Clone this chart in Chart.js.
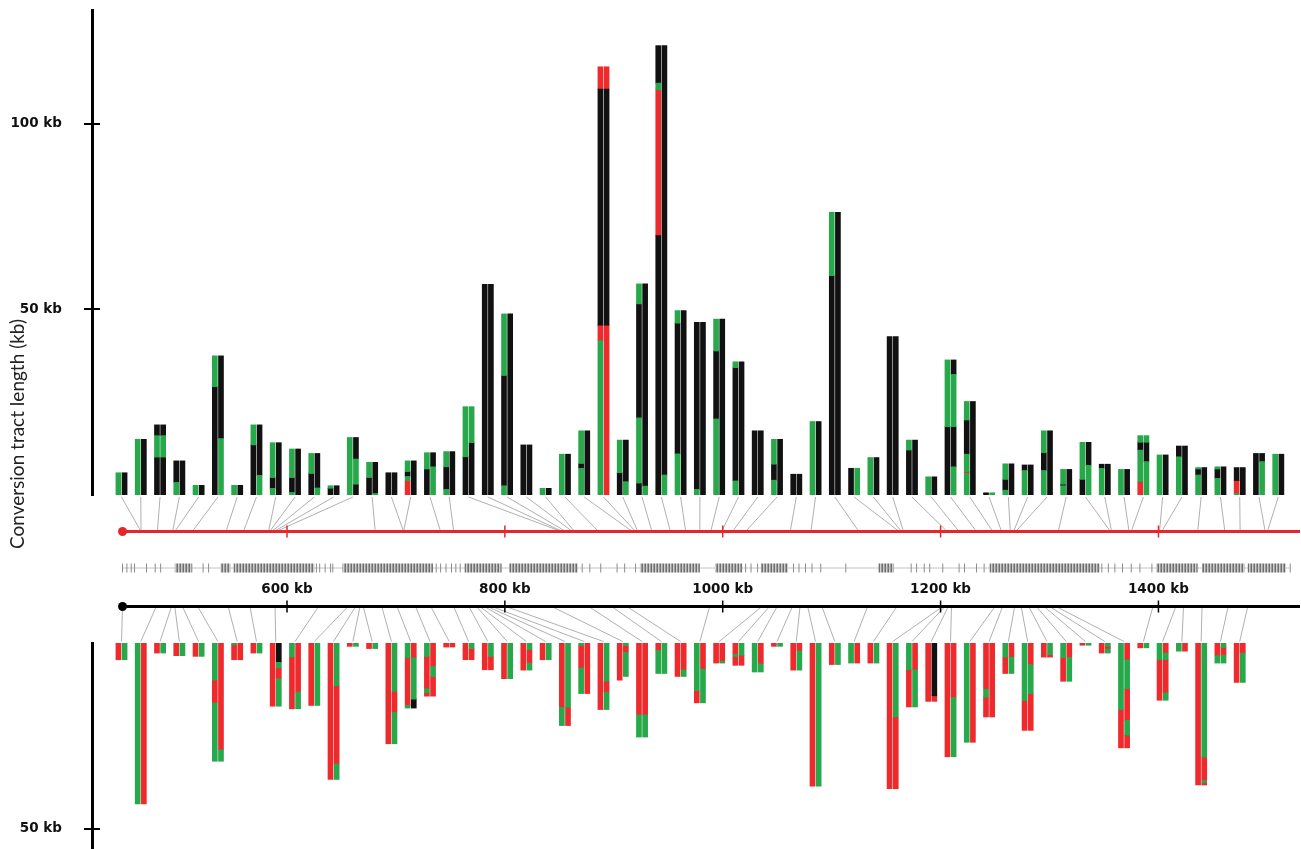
<!DOCTYPE html>
<html>
<head>
<meta charset="utf-8">
<script src="https://cdn.jsdelivr.net/npm/chart.js@4.4.1/dist/chart.umd.min.js"></script>
<style>
  html, body { margin: 0; padding: 0; background: #fff; overflow: hidden; }
  #wrap { width: 1301px; height: 849px; position: relative; }
</style>
</head>
<body>
<div id="wrap"><canvas id="chart"></canvas></div>
<script>
// ---------------------------------------------------------------------------
// Conversion tracts along the chromosome arm.
// Each event is drawn as a pair of stacked bars (one per chromatid).
// A bar is written bottom-up as "<colour><upper boundary in kb>" tokens:
//   g = green, k = black, r = red.
// ---------------------------------------------------------------------------

// Events shown above the chromosome: genomic position (kb) and tract make-up
const upperPos = [
  466, 466, 481, 495, 497, 513, 544, 560, 583, 584, 586, 588, 590, 681, 707, 707,
  741, 753, 852, 853, 856, 862, 864, 886, 917, 920, 922, 935, 952, 966, 979, 989,
  999, 1009, 1021, 1062, 1081, 1125, 1162, 1164, 1166, 1206, 1217, 1233, 1248, 1256,
  1264, 1267, 1269, 1308, 1356, 1357, 1373, 1375, 1401, 1403, 1436, 1461, 1475, 1498, 1500
];
const upperLeft = [
  'g6', 'g15', 'k10.2 g16 k18.9', 'g3.4 k9.2', 'g2.6', 'k29.2 g37.5', 'g2.6', 'k13.5 g18.9',
  'g1.8 k4.7 g14.1', 'g0.7 k4.7 g12.4', 'k5.8 g11.2', 'k1.8 g2.5', 'g15.5', 'k4.7 g8.8', 'k6',
  'r3.9 g5 k6.3 g9.2', 'k7 g11.4', 'g1.5 k7.6 g11.7', 'k10.3 g23.8', 'k56.8', 'g2.5 k32.2 g48.8',
  'k13.5', 'g1.8', 'g11', 'g7.2 k8.5 g17.3', 'g41.6 r45.8 k109.4 r115.4', 'k6 g14.8',
  'k3.2 g20.8 k51.5 g56.9', 'k69.9 r109.2 g111 k121.1', 'g11.1 k46.3 g49.7', 'g1.5 k46.5',
  'g20.5 k38.8 g47.4', 'g3.8 k34.3 g35.9', 'k17.3', 'g4 k8.3 g15', 'k5.6', 'g19.8', 'k59.1 g76.2',
  'k7.2', 'g10.1', 'k42.7', 'k12.1 g14.8', 'g4.9', 'k18.4 g36.4', 'g5.8 r6.3 g11 k20.2 g25.2',
  'k0.6', 'g1.3 k4.2 g8.4', 'g6.6 k8.1', 'g6.6 k11.4 g17.3', 'g2.5 k2.9 g6.9', 'k4.2 g14.2',
  'g7.2 k8.3', 'g6.9', 'r3.6 g12.1 k14.2 g16', 'g10.8', 'g10.3 k13.2', 'g5.4 k7 g7.4',
  'g4.5 k7 g7.6', 'g0.4 r3.9 k7.4', 'k11.2', 'g11'
];
const upperRight = [
  'k6', 'k15', 'k10.2 g16 k18.9', 'k9.2', 'k2.6', 'g15.2 k37.5', 'k2.6', 'g5.3 k18.9',
  'k14.1', 'k12.4', 'g1.9 k11.2', 'k2.5', 'k2.9 g9.7 k15.5', 'g0.4 k8.8', 'k6',
  'k9.2', 'g7.6 k11.4', 'k11.7', 'k14.1 g23.8', 'k56.8', 'k48.8',
  'k13.5', 'k1.8', 'k11', 'k17.3', 'r45.8 k109.4 r115.4', 'g3.6 k14.8',
  'g2.4 k56.9', 'g5.4 k121.1', 'k49.7', 'k46.5',
  'k47.4', 'k35.9', 'k17.3', 'k15', 'k5.6', 'k19.8', 'k76.2',
  'g7.2', 'k10.1', 'k42.7', 'k14.8', 'k4.9', 'g7.6 k18.4 g32.5 k36.4', 'k25.2',
  'g0.6', 'k8.4', 'k8.1', 'k17.3', 'k6.9', 'g8 k14.2',
  'k8.3', 'k6.9', 'g9 k14.2 g16', 'k10.8', 'k13.2', 'k7.4',
  'k7.6', 'k7.4', 'g9 k11.2', 'k11'
];

// Events shown below the chromosome (bars hang downwards from the axis)
const lowerPos = [
  449, 480, 494, 497, 504, 518, 546, 566, 589, 629, 656, 663, 667, 670, 687, 701,
  718, 732, 753, 767, 774, 777, 781, 784, 788, 801, 843, 877, 898, 912, 988, 1036,
  1043, 1050, 1064, 1071, 1078, 1091, 1133, 1160, 1202, 1204, 1207, 1210, 1250, 1257,
  1268, 1274, 1281, 1288, 1295, 1300, 1306, 1395, 1416, 1423, 1440, 1464, 1482
];
const lowerLeft = [
  'r4.5', 'g43.3', 'r2.7', 'r3.4', 'r3.6', 'g10 r16.1 g31.8', 'g0.5 r4.5', 'r2.7', 'r17',
  'g3.8 r17.7', 'r16.8', 'r36.7', 'r0.9', 'r1.5', 'r27.1', 'g4 r16.8 g17.5',
  'g3.6 r12.3 g13.4 r14.3', 'r1.1', 'r4.5', 'r7.2', 'r9.6', 'r7.3', 'r4.5', 'r17.3 g22.2',
  'g0.7 r6.7 g13.6', 'r17.9', 'r10', 'r19.3 g25.3', 'r2 g8.2', 'r9', 'g12.8 r16.1', 'r5.4',
  'r3.1 g3.6 r6', 'g7.8', 'r0.9', 'r7.3', 'r38.5', 'r5.8', 'g5.4', 'r5.4', 'r39.2',
  'g7.2 r17.2', 'r15.7', 'r30.6', 'g26.7', 'r12.4 g14.6 r19.9', 'g3.8 r8.2', 'g15.5 r23.5',
  'r3.8', 'g3.9 r10.3', 'r0.6', 'r2.7', 'g17.9 r28.2', 'r1.3', 'g4.5 r15.4', 'g2.2',
  'r38.2', 'r3.4 g5.4', 'r10.6'
];
const lowerRight = [
  'g4.5', 'r43.3', 'g2.7', 'g3.4', 'g3.6', 'r28.7 g31.8', 'r4.5', 'g2.7', 'k5.2 g6.7 r9.6 g17',
  'r13.2 g17.7', 'g16.8', 'g11.5 r32.5 g36.7', 'g0.9', 'g1.5', 'g13 r18.6 g27.1', 'r4 g15.1 k17.5',
  'r6.3 g9 r14.3', 'r1.1', 'g1.5 r4.5', 'g3.6 r7.2', 'g9.6', 'g1.8 r5.4 g7.3', 'g4.5', 'g17.3 r22.2',
  'r13.6', 'g10.3 r13.2 g17.9', 'g0.7 r2.5 g9', 'r19.3 g25.3', 'g8.2', 'r7.2 g9', 'r7 g16.1', 'r4.9 g5.4',
  'g3.3 r6', 'r5.6 g7.8', 'g0.9', 'r2.1 g7.3', 'g38.5', 'g5.8', 'r5.4', 'g5.4', 'g19.9 r39.2',
  'r7.2 g17.2', 'k14.2 r15.7', 'r14.6 g30.6', 'r26.7', 'r19.9', 'r3.8 g8.2', 'r5.8 g13.6 r23.5',
  'g3.1 r3.8', 'r3.9 g10.3', 'g0.6', 'g0.9 r1.6 g2.7', 'r4.5 g12.3 r20.8 g24.8 r28.2', 'g1.3',
  'r2.7 g4.5 r13.4 g15.4', 'r2.2', 'g30.7 r37 g37.6 r38.2', 'g1.2 r3.3 g5.4', 'r2.7 g10.6'
];

// Genotyped marker density along the chromosome (kb)
const markerBlocks = [
  [497, 513], [539, 548], [551, 625], [651, 734], [763, 797], [804, 867], [924, 979],
  [993, 1018], [1035, 1060], [1143, 1157], [1245, 1346], [1398, 1436], [1440, 1479], [1482, 1517]
];
const markerSingles = [
  449, 453, 457, 460, 471, 479, 484, 523, 528, 627, 630, 635, 640, 642, 737, 741, 746, 751,
  755, 759, 871, 878, 888, 903, 910, 920, 1021, 1026, 1032, 1065, 1070, 1076, 1082, 1090,
  1113, 1173, 1178, 1185, 1190, 1202, 1217, 1222, 1233, 1240, 1348, 1354, 1360, 1367, 1375,
  1383, 1394, 1521
];

// Chromosome extent and axis ticks
const chromStart = 449;
const chromEnd = 1531;
const genomeTicks = [600, 800, 1000, 1200, 1400];
const upperTicks = [50, 100];
const lowerTicks = [50];
const yTitle = 'Conversion tract length (kb)';

// ---------------------------------------------------------------------------
const COLOURS = { g: '#27a84a', k: '#111111', r: '#ee2a2d' };
const PAIR_OFFSET = 0.16;          // half-distance between the two bars of a pair (slot units)

// Middle track layout (yMid units, 0 = bottom of the band)
const LINK_TOP = 146, RED_Y = 111.5, MARKER_Y = 75, LABEL_Y = 69.5, BLACK_Y = 36.5, LINK_BOTTOM = 1.5;

function parseBar(code) {
  const segs = [];
  let lo = 0;
  code.trim().split(/\s+/).forEach(tok => {
    const hi = parseFloat(tok.slice(1));
    segs.push({ c: tok[0], lo, hi });
    lo = hi;
  });
  return segs;
}

function panelDatasets(left, right, yAxisID, tag) {
  const byColour = { g: [], k: [], r: [] };
  left.forEach((code, i) => {
    const slot = i + 1;
    [[code, slot - PAIR_OFFSET], [right[i], slot + PAIR_OFFSET]].forEach(([c, x]) => {
      parseBar(c).forEach(s => byColour[s.c].push({ x, y: [s.lo, s.hi] }));
    });
  });
  return ['g', 'k', 'r'].map(c => ({
    type: 'bar',
    label: tag + '-' + c,
    data: byColour[c],
    backgroundColor: COLOURS[c],
    borderWidth: 0,
    xAxisID: 'xs',
    yAxisID,
    grouped: false,
    barThickness: 5,
    order: 1
  }));
}

// striped fill used for dense runs of markers
function stripePattern() {
  const tile = document.createElement('canvas');
  tile.width = 3; tile.height = 10;
  const t = tile.getContext('2d');
  t.fillStyle = '#cfcfcf'; t.fillRect(0, 0, 3, 10);
  t.fillStyle = '#6f6f6f'; t.fillRect(0, 0, 1, 10);
  t.fillStyle = '#9c9c9c'; t.fillRect(2, 0, 1, 10);
  return t.createPattern(tile, 'repeat');
}

function tickMarks(xs, y, colour, radius, width) {
  return {
    type: 'line', showLine: false, data: xs.map(x => ({ x, y })),
    pointStyle: 'line', rotation: 90, pointRadius: radius, pointHoverRadius: radius,
    borderColor: colour, pointBorderColor: colour, pointBorderWidth: width,
    xAxisID: 'xg', yAxisID: 'yMid', order: 0
  };
}

function chromLine(y, colour) {
  return {
    type: 'line', data: [{ x: chromStart, y }, { x: chromEnd, y }],
    borderColor: colour, borderWidth: 3, borderCapStyle: 'butt',
    pointRadius: ctx => (ctx.dataIndex === 0 ? 4.5 : 0),
    pointBackgroundColor: colour, pointBorderColor: colour, pointBorderWidth: 0,
    xAxisID: 'xg', yAxisID: 'yMid', order: 0
  };
}

const stripes = stripePattern();
const datasets = [
  ...panelDatasets(upperLeft, upperRight, 'yTop', 'upper'),
  ...panelDatasets(lowerLeft, lowerRight, 'yBot', 'lower'),
  chromLine(RED_Y, '#e8252b'),
  tickMarks(genomeTicks, RED_Y, '#e8252b', 6, 1.5),
  chromLine(BLACK_Y, '#000000'),
  tickMarks(genomeTicks, BLACK_Y, '#000000', 6, 1.5),
  {
    type: 'line', data: [{ x: markerSingles[0], y: MARKER_Y }, { x: markerSingles[markerSingles.length - 1], y: MARKER_Y }],
    borderColor: '#c4c4c4', borderWidth: 1, pointRadius: 0, xAxisID: 'xg', yAxisID: 'yMid', order: 2
  },
  ...markerBlocks.map(([a, b]) => ({
    type: 'line', data: [{ x: a, y: MARKER_Y }, { x: b, y: MARKER_Y }],
    borderColor: stripes, borderWidth: 9, borderCapStyle: 'butt', pointRadius: 0,
    xAxisID: 'xg', yAxisID: 'yMid', order: 1
  })),
  tickMarks(markerSingles, MARKER_Y, '#8c8c8c', 4.5, 1)
];

// thin links from each bar pair to its position on the chromosome
const linkPlugin = {
  id: 'links',
  beforeDatasetsDraw(chart) {
    const { ctx, scales: { xs, xg, yMid } } = chart;
    ctx.save();
    ctx.strokeStyle = '#9c9c9c';
    ctx.lineWidth = 0.8;
    ctx.beginPath();
    upperPos.forEach((kb, i) => {
      ctx.moveTo(xs.getPixelForValue(i + 1), yMid.getPixelForValue(LINK_TOP));
      ctx.lineTo(xg.getPixelForValue(kb), yMid.getPixelForValue(RED_Y));
    });
    lowerPos.forEach((kb, i) => {
      ctx.moveTo(xg.getPixelForValue(kb), yMid.getPixelForValue(BLACK_Y));
      ctx.lineTo(xs.getPixelForValue(i + 1), yMid.getPixelForValue(LINK_BOTTOM));
    });
    ctx.stroke();
    ctx.restore();
  }
};

// tick marks that cross the vertical axes, plus the shared axis title
const axisDecorPlugin = {
  id: 'axisDecor',
  afterDraw(chart) {
    const { ctx, chartArea } = chart;
    ctx.save();
    ctx.strokeStyle = '#000';
    ctx.lineWidth = 2;
    ['yTop', 'yBot'].forEach(id => {
      const s = chart.scales[id];
      s.ticks.forEach(t => {
        const y = Math.round(s.getPixelForValue(t.value));
        ctx.beginPath();
        ctx.moveTo(chartArea.left - 8, y);
        ctx.lineTo(chartArea.left + 8, y);
        ctx.stroke();
      });
    });
    ctx.translate(18, 434);
    ctx.rotate(-Math.PI / 2);
    ctx.textAlign = 'center';
    ctx.textBaseline = 'middle';
    ctx.font = '19px Lato';
    ctx.fillStyle = '#222';
    ctx.fillText(yTitle, 0, 0);
    ctx.restore();
  }
};

const tickFont = { family: 'DejaVu Sans', size: 13.5, weight: 'bold' };
// axes keep a fixed footprint: no automatic label padding around the plot
const noPadding = s => { s.paddingTop = 0; s.paddingBottom = 0; s.paddingLeft = 0; s.paddingRight = 0; };
const fixWidth = s => { s.width = 92; noPadding(s); };

function lengthAxis(ticks, opts) {
  return Object.assign({
    type: 'linear', position: 'left', stack: 'panel',
    grid: { display: false },
    border: { display: true, color: '#000', width: 3 },
    ticks: { font: tickFont, color: '#111', padding: 22, callback: v => v + ' kb' },
    afterBuildTicks: s => { s.ticks = ticks.map(v => ({ value: v })); },
    afterFit: fixWidth
  }, opts);
}

new Chart(document.getElementById('chart'), {
  type: 'bar',
  data: { datasets },
  options: {
    responsive: true,
    maintainAspectRatio: false,
    animation: false,
    devicePixelRatio: 1,
    layout: { autoPadding: false, padding: { top: 10, right: 1, bottom: 0, left: 0 } },
    plugins: { legend: { display: false }, tooltip: { enabled: false } },
    scales: {
      xs: {
        type: 'linear', display: false, offset: false, grid: { offset: false },
        min: -0.53, max: 62.126, afterFit: noPadding
      },
      xg: {
        type: 'linear', position: { yMid: LABEL_Y }, offset: false, min: 420.98, max: 1529.96,
        grid: { display: false, offset: false }, border: { display: false },
        ticks: { font: tickFont, color: '#111', padding: 0, maxRotation: 0, callback: v => v + ' kb' },
        afterBuildTicks: s => { s.ticks = genomeTicks.map(v => ({ value: v })); },
        afterFit: noPadding
      },
      yBot: lengthAxis(lowerTicks, { reverse: true, min: 0, max: 55.4, stackWeight: 206, weight: 1 }),
      yMid: {
        type: 'linear', position: 'left', stack: 'panel', stackWeight: 148, weight: 2,
        min: 0, max: 148,
        grid: { display: false }, border: { display: false }, ticks: { display: false },
        afterFit: fixWidth
      },
      yTop: lengthAxis(upperTicks, { min: 0, max: 130.7, stackWeight: 485, weight: 3 })
    }
  },
  plugins: [linkPlugin, axisDecorPlugin]
});
</script>
</body>
</html>
